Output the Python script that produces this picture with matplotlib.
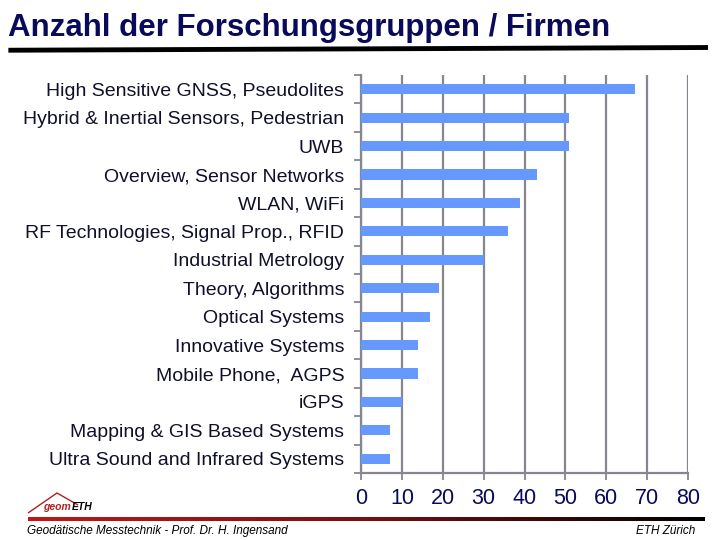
import matplotlib.pyplot as plt
import numpy as np
from matplotlib.colors import LinearSegmentedColormap

# data
categories = ['High Sensitive GNSS, Pseudolites',
              'Hybrid & Inertial Sensors, Pedestrian',
              'UWB',
              'Overview, Sensor Networks',
              'WLAN, WiFi',
              'RF Technologies, Signal Prop., RFID',
              'Industrial Metrology',
              'Theory, Algorithms',
              'Optical Systems',
              'Innovative Systems',
              'Mobile Phone,  AGPS',
              'iGPS',
              'Mapping & GIS Based Systems',
              'Ultra Sound and Infrared Systems']
values = [67, 51, 51, 43, 39, 36, 30, 19, 17, 14, 14, 10, 7, 7]
xticks = [0, 10, 20, 30, 40, 50, 60, 70, 80]

font = 'Liberation Sans'
navy = '#0a0a5a'
grey = '#868690'

fig = plt.figure(figsize=(7.2, 5.4), dpi=100)

# title + rule
fig.text(0.011, 0.948, 'Anzahl der Forschungsgruppen / Firmen', family=font,
         fontsize=22.5, fontweight='bold', color=navy, va='center')
fig.add_artist(plt.Line2D([0.015, 0.98], [0.907, 0.912], color='black', lw=3.5))

# chart
ax = fig.add_axes([361/720, 1 - 473/540, (688-361)/720, (473-75)/540])
y = np.arange(len(categories))
ax.barh(y, values, height=0.36, color='#6699ff', zorder=3)
ax.set_ylim(len(categories) - 0.5, -0.5)
ax.set_xlim(0, 80)
ax.set_xticks(xticks)
ax.set_xticklabels([str(t) for t in xticks], family=font, fontsize=15.5, color=navy)
ax.grid(axis='x', color=grey, lw=1.6, zorder=0)
ax.set_yticks(y)
ax.set_yticklabels(categories, family=font, fontsize=14, color='#10102a')
ax.set_yticks(np.arange(len(categories) + 1) - 0.5, minor=True)
ax.tick_params(axis='y', which='major', length=0, pad=12)
ax.tick_params(axis='y', which='minor', length=5, width=1.3, color=grey)
ax.tick_params(axis='x', length=5, width=1.3, color=grey, pad=6)
for s in ['top', 'right']:
    ax.spines[s].set_visible(False)
for s in ['left', 'bottom']:
    ax.spines[s].set_color(grey)
    ax.spines[s].set_linewidth(1.6)

# footer: gradient rule
grad = np.linspace(0, 1, 256).reshape(1, -1)
gax = fig.add_axes([28/720, 1 - 521/540, (705-28)/720, 4/540])
cmap = LinearSegmentedColormap.from_list('rb', ['#c01818', '#7a0f0f', '#000000'])
gax.imshow(grad, aspect='auto', cmap=cmap)
gax.axis('off')

# logo
fig.add_artist(plt.Polygon([[28/720, 1 - 513/540], [57/720, 1 - 493/540], [78/720, 1 - 505/540]],
                           closed=False, fill=False, edgecolor='#b02020', lw=1.0))
fig.text(43/720, 1 - 510/540, 'geom', fontsize=7.5, color='#b02020', style='italic',
         fontweight='bold', family=font)
fig.text(72/720, 1 - 510/540, 'ETH', fontsize=7.5, color='black', style='italic',
         fontweight='bold', family=font)

fig.text(27/720, 1 - 531/540, 'Geodätische Messtechnik - Prof. Dr. H. Ingensand', fontsize=8.5,
         style='italic', family=font, color='black', va='center')
fig.text(695/720, 1 - 531/540, 'ETH Zürich', fontsize=8.5, style='italic', family=font,
         color='black', va='center', ha='right')

fig.savefig('out.png', dpi=100)
